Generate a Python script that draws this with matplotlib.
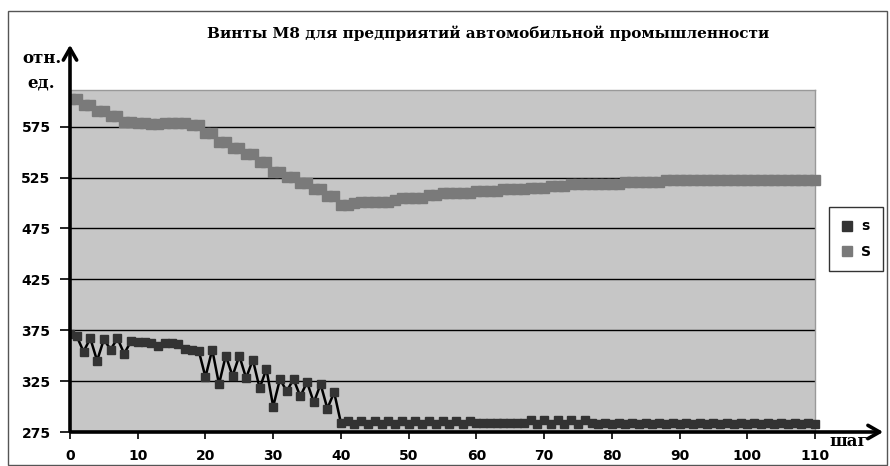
import matplotlib
matplotlib.use("Agg")
import matplotlib.pyplot as plt
from matplotlib.patches import Rectangle, FancyArrowPatch
from matplotlib.lines import Line2D

steps = list(range(0, 111))

s_small = [371, 369, 354, 367, 345, 366, 356, 367, 352, 364,
           363, 363, 362, 359, 362, 362, 361, 357, 356, 355,
           329, 356, 322, 350, 330, 350, 328, 346, 318, 337,
           300, 327, 315, 327, 310, 324, 304, 322, 298, 314,
           284, 286, 283, 286, 283, 286, 283, 286, 283, 286,
           283, 286, 283, 286, 283, 286, 283, 286, 283, 286,
           283.5, 283.5, 283.5, 283.5, 283.5, 283.5, 283.5, 283.5, 286.5, 283,
           286.5, 283, 286.5, 283, 286.5, 283, 286.5, 283.5, 282.5, 283.5,
           282.5, 283.5, 282.5, 283.5, 282.5, 283.5, 282.5, 283.5, 282.5, 283.5,
           282.5, 283.5, 282.5, 283.5, 282.5, 283.5, 282.5, 283.5, 282.5, 283.5,
           282.5, 283.5, 282.5, 283.5, 282.5, 283.5, 282.5, 283.5, 282.5, 283.5,
           283]

S_big = [602, 602, 596, 596, 590, 590, 585, 585, 580, 580,
         579, 579, 578, 578, 579, 579, 579, 579, 577, 577,
         569, 569, 560, 560, 554, 554, 548, 548, 540, 540,
         530, 530, 526, 526, 520, 520, 514, 514, 507, 507,
         498.5, 498.5, 499.5, 501, 501, 501, 501, 501, 503, 505,
         505, 505, 505, 508, 508, 510, 510, 510, 510, 510,
         512, 512, 512, 512, 514, 514, 514, 514, 515, 515,
         515, 516.7, 516.7, 516.7, 518.6, 518.6, 519, 519, 519, 519,
         519, 519, 521, 521, 521, 521, 521, 521, 522.5, 522.5,
         522.5, 522.5, 522.5, 522.5, 522.5, 522.5, 522.5, 522.5, 523, 523,
         523, 523, 523, 523, 523, 523, 523, 523, 523, 523,
         523]

x_ticks = [0, 10, 20, 30, 40, 50, 60, 70, 80, 90, 100, 110]
y_ticks = [275, 325, 375, 425, 475, 525, 575]

title = "Винты М8 для предприятий автомобильной промышленности"
series_names = ["s", "S"]

W, H = 890, 466
fig = plt.figure(figsize=(W / 100, H / 100), dpi=100)

def fx(px):
    return px / W

def fy(py):
    return 1 - py / H

# outer frame
fig.patches.append(Rectangle((fx(8), fy(465)), fx(887) - fx(8), fy(11) - fy(465),
                             transform=fig.transFigure, fill=False,
                             edgecolor="#555555", linewidth=1.0))

ax = fig.add_axes([fx(70), fy(432), fx(815) - fx(70), fy(90) - fy(432)])
ax.set_facecolor("#C6C6C6")
ax.set_xlim(0, 110)
ax.set_ylim(275, 611)

for v in y_ticks[1:]:
    ax.axhline(v, color="black", linewidth=1.0, zorder=1)

clip_rect = Rectangle((0, -0.2), 1.2, 1.4, transform=ax.transAxes,
                      fill=False, visible=False)
ax.add_patch(clip_rect)

l1, = ax.plot(steps, S_big, color="#7A7A7A", linewidth=1.4, marker="s",
              markersize=6.6, markerfacecolor="#7A7A7A", markeredgecolor="#7A7A7A",
              zorder=3)
l2, = ax.plot(steps, s_small, color="black", linewidth=1.8, marker="s",
              markersize=6.4, markerfacecolor="#333333", markeredgecolor="#333333",
              zorder=4)
for ln in (l1, l2):
    ln.set_clip_path(clip_rect)

for side in ["top", "right"]:
    ax.spines[side].set_color("#999999")
    ax.spines[side].set_linewidth(1.0)
ax.spines["left"].set_visible(False)
ax.spines["bottom"].set_visible(False)

sans = ["DejaVu Sans"]
serif = ["DejaVu Serif"]

ax.set_xticks(x_ticks)
ax.set_yticks(y_ticks)
ax.set_xticklabels([str(t) for t in x_ticks], family=sans,
                   fontweight="bold", fontsize=10)
ax.set_yticklabels([str(t) for t in y_ticks], family=sans,
                   fontweight="bold", fontsize=10)
ax.tick_params(axis="x", direction="out", length=5, width=1.2, pad=7, colors="black")
ax.tick_params(axis="y", direction="out", length=7, width=1.2, pad=7, colors="black")

# axis arrows
fig.add_artist(FancyArrowPatch(
    (fx(70), fy(434)), (fx(70), fy(42)), transform=fig.transFigure,
    arrowstyle="->,head_length=7,head_width=4", color="black",
    linewidth=2.6, mutation_scale=1.2))
fig.add_artist(FancyArrowPatch(
    (fx(68), fy(432)), (fx(886), fy(432)), transform=fig.transFigure,
    arrowstyle="->,head_length=7,head_width=4", color="black",
    linewidth=2.6, mutation_scale=1.2))

fig.text(fx(488), fy(33), title, ha="center", va="center", family=serif,
         fontweight="bold", fontsize=11)
fig.text(fx(42), fy(63), "отн.", ha="center", va="baseline", family=serif,
         fontweight="bold", fontsize=12)
fig.text(fx(41), fy(88), "ед.", ha="center", va="baseline", family=serif,
         fontweight="bold", fontsize=12)
fig.text(fx(849), fy(446), "шаг", ha="center", va="baseline", family=serif,
         fontweight="bold", fontsize=12)

handles = [Line2D([], [], linestyle="none", marker="s", markersize=6.5,
                  markerfacecolor="#333333", markeredgecolor="#333333"),
           Line2D([], [], linestyle="none", marker="s", markersize=6.5,
                  markerfacecolor="#7A7A7A", markeredgecolor="#7A7A7A")]
leg = fig.legend(handles, series_names, loc="upper left",
                 bbox_to_anchor=(fx(829), fy(207)), bbox_transform=fig.transFigure,
                 frameon=True, fancybox=False, edgecolor="black",
                 handlelength=0.8, handletextpad=0.6, borderpad=0.9,
                 labelspacing=0.8, borderaxespad=0,
                 prop={"family": sans, "weight": "bold", "size": 10})
leg.get_frame().set_linewidth(1.0)

fig.savefig("out.png", dpi=100)
